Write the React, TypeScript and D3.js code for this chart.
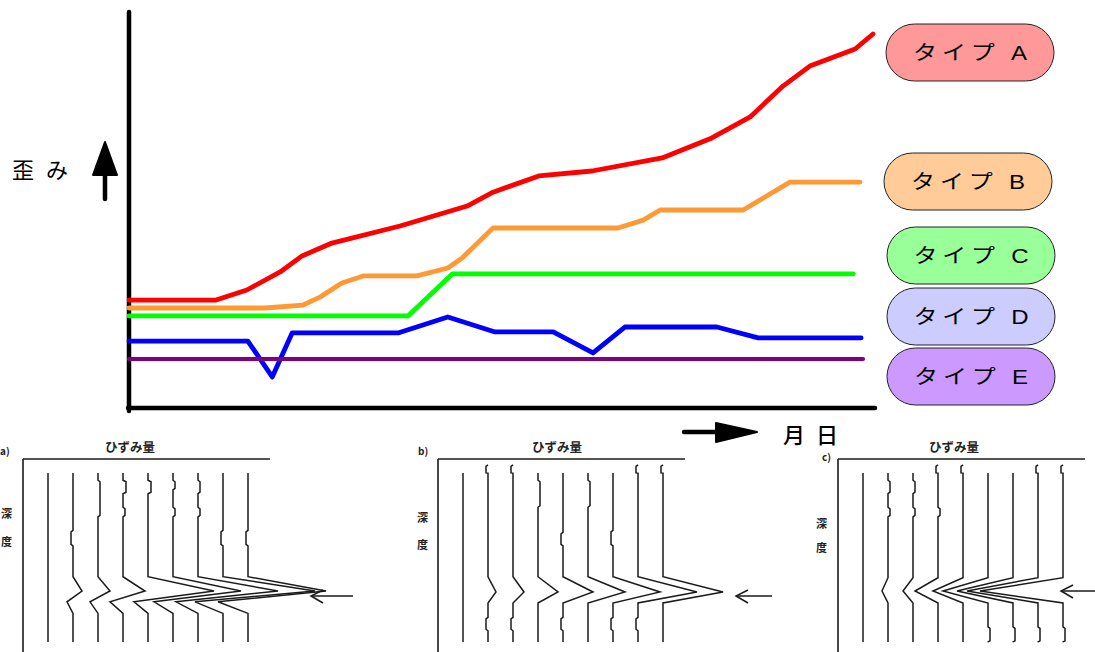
import React from "react";
import * as d3 from "d3";

const W = 1095;
const H = 652;

// ---- main chart data: [day, strain] ----
const typeA: [number, number][] = [
  [0, 54.5], [17.5, 54.5], [23.7, 59.6], [30.4, 68.7], [34.8, 76.8], [40.8, 83.3],
  [54.5, 91.9], [68, 102], [73.2, 109], [82.4, 117.2], [93.1, 119.7], [107.2, 126.3],
  [117.2, 136.4], [124.9, 147], [131.5, 162.6], [136.9, 172.7], [146, 181.3], [149.6, 188.9],
];
const typeB: [number, number][] = [
  [0, 50.5], [27.3, 50.5], [35, 52], [38.4, 56], [42.8, 63.1], [47.1, 66.7], [57.9, 66.7],
  [64.1, 70.7], [67, 75.8], [73.2, 90.9], [98.3, 90.9], [103.4, 94.9], [106.8, 100],
  [123.5, 100], [132.9, 114.1], [147, 114.1],
];
const typeC: [number, number][] = [
  [0, 46.5], [56.1, 46.5], [65, 67.7], [145.6, 67.7],
];
const typeD: [number, number][] = [
  [0, 33.8], [23.9, 33.8], [28.8, 15.7], [32.8, 37.9], [54.1, 37.9], [64.1, 46],
  [73.6, 38.4], [85.3, 38.4], [93.3, 27.8], [99.7, 40.9], [118.2, 40.9], [126.5, 35.4],
  [147.2, 35.4],
];
const typeE: [number, number][] = [
  [0, 24.7], [147.6, 24.7],
];

const typeNames = ["タイプ A", "タイプ B", "タイプ C", "タイプ D", "タイプ E"];
const lineColors = ["#ff0000", "#ff9933", "#00ff00", "#0000ff", "#800080"];
const pillColors = ["#ff9999", "#ffcc99", "#99ff99", "#ccccff", "#cc99ff"];
const seriesList = [typeA, typeB, typeC, typeD, typeE];

const yLabel = "歪み";
const xLabel = "月 日";

// ---- strain-profile panels (bottom) ----
const panelLabels = ["a)", "b)", "c)"];
const panelTitle = "ひずみ量";
const depthLabel = ["深", "度"];
const gaugePos = [25, 50, 75, 100, 125, 150, 175, 200, 225];
const peakA = [0, 9, 12, 22, 66, 68, 80, 92, 78];
const troughA = [0, -6, -8, -13, -14, -19, -22, -28, -30];
const peakB = [0, 8, 11, 20, 30, 37, 47, 59, 60];
const peakC = [0, -6, -10, -23, -30, -45, -56, -71, -83];
// small kinks in profiles: [depthFrom, depthTo, offset]
const jogsA: [number, number, number][][] = [
  [], [[37, 45, -2]], [[11, 30, 2]], [[11, 18, 3], [25, 30, 2]], [[11, 18, 3]],
  [[11, 16, 2], [25, 30, 2]], [[11, 18, 2], [25, 30, 2]], [[37, 45, -2]], [[37, 45, -2]],
];
const jogsB: [number, number, number][][] = [
  [], [[3, 8, -2], [82, 89, -2]], [[3, 8, -2], [82, 89, -2]], [[11, 25, 2]], [[38, 45, -2], [82, 89, -2]],
  [[11, 25, 2]], [[37, 45, -2], [82, 89, -2]], [[3, 8, -2], [82, 89, -2]], [[3, 8, -2]],
];
const jogsC: [number, number, number][][] = [
  [], [[11, 18, 2], [25, 30, 2]], [[11, 18, 2], [25, 30, 2]], [[3, 8, -2], [25, 30, 2]], [[3, 8, -2]],
  [[87, 95, 2]], [[87, 95, 2]], [[3, 8, -2], [87, 95, 2]], [[3, 8, -2], [87, 95, 2]],
];

// depth keys: top, kinkTop, peak, trough, return, bottom
const depthKeysA = [7.3, 61, 68.4, 74, 80, 94.8];
const depthKeysB = [7.3, 61, 68.9, 71.5, 74.6, 94.8];
const depthKeysC = [7.3, 61.5, 68.4, 71.5, 74.6, 94.8];

const panels = [
  { left: 23, label: panelLabels[0], peaks: peakA, troughs: troughA, jogs: jogsA, keys: depthKeysA,
    labelX: 0, labelY: 455, titleX: 130, sideX: 1, sideY: [518, 546], arrow: [353, 311, 596] },
  { left: 438, label: panelLabels[1], peaks: peakB, troughs: null, jogs: jogsB, keys: depthKeysB,
    labelX: 418, labelY: 455, titleX: 557, sideX: 417, sideY: [522, 549], arrow: [772, 736, 596] },
  { left: 838, label: panelLabels[2], peaks: peakC, troughs: null, jogs: jogsC, keys: depthKeysC,
    labelX: 822, labelY: 461, titleX: 954, sideX: 816, sideY: [528, 552], arrow: [1095, 1061, 591] },
];

function profilePoints(p: typeof panels[number], i: number): [number, number][] {
  const k = p.keys;
  if (p.peaks[i] === 0) return [[0, k[0]], [0, k[5]]];
  const pts: [number, number][] = [[0, k[0]], [0, k[1]], [p.peaks[i], k[2]]];
  if (p.troughs) pts.push([p.troughs[i], k[3]]);
  pts.push([0, k[4]], [0, k[5]]);
  for (const [d0, d1, dx] of p.jogs[i]) {
    pts.push([0, d0], [dx, d0 + 0.8], [dx, d1 - 0.8], [0, d1]);
  }
  pts.sort((a, b) => a[1] - b[1]);
  return pts;
}

const CJK = "'Noto Sans CJK JP', 'Noto Sans', sans-serif";
const LATIN_CJK = "'Liberation Sans', Arial, 'Noto Sans CJK JP', sans-serif";

export default function App() {
  const x = d3.scaleLinear().domain([0, 150]).range([129, 875]);
  const y = d3.scaleLinear().domain([0, 200]).range([408, 12]);
  const line = d3
    .line<[number, number]>()
    .x((d) => x(d[0]))
    .y((d) => y(d[1]));

  const pillLayout = [
    { x: 886, y: 24 }, { x: 884, y: 153 }, { x: 887, y: 227 }, { x: 887, y: 288 }, { x: 887, y: 348 },
  ];
  const pillW = 168;
  const pillH = 57;

  const depth = d3.scaleLinear().domain([0, 100]).range([459, 652]);

  return (
    <svg
      width={W}
      height={H}
      viewBox={`0 0 ${W} ${H}`}
      style={{ position: "absolute", left: 0, top: 0, background: "#fff" }}
    >
      <rect x={0} y={0} width={W} height={H} fill="#fff" />

      {/* axes */}
      <line x1={x(0)} y1={y(0) + 3} x2={x(0)} y2={y(200)} stroke="#000" strokeWidth={4.5} strokeLinecap="round" />
      <line x1={x(0) - 1} y1={y(0)} x2={x(150)} y2={y(0)} stroke="#000" strokeWidth={4.5} strokeLinecap="round" />

      {/* series */}
      {seriesList.map((s, i) => (
        <path
          key={i}
          d={line(s) || ""}
          fill="none"
          stroke={lineColors[i]}
          strokeWidth={i === 4 ? 4 : 4.8}
          strokeLinejoin="round"
          strokeLinecap="round"
        />
      ))}

      {/* y label + arrow */}
      <text x={12} y={178} fontFamily={CJK} fontSize={22} letterSpacing={12} fill="#000">
        {yLabel}
      </text>
      <line x1={105} y1={199} x2={105} y2={170} stroke="#000" strokeWidth={4.5} strokeLinecap="round" />
      <path d="M105,142 L117,175 L93,175 Z" fill="#000" stroke="#000" strokeWidth={2} strokeLinejoin="round" />

      {/* x label + arrow */}
      <line x1={684} y1={432} x2={720} y2={432} stroke="#000" strokeWidth={4.5} strokeLinecap="round" />
      <path d="M716,423 L757,432 L716,442 Z" fill="#000" stroke="#000" strokeWidth={2} strokeLinejoin="round" />
      <text x={783} y={443} fontFamily={CJK} fontSize={22} fontWeight={500} letterSpacing={3} fill="#000">
        {xLabel}
      </text>

      {/* legend pills */}
      {typeNames.map((n, i) => {
        const p = pillLayout[i];
        const cx = p.x + pillW / 2;
        const cy = p.y + pillH / 2;
        return (
          <g key={n}>
            <rect
              x={p.x}
              y={p.y}
              width={pillW}
              height={pillH}
              rx={pillH / 2}
              ry={pillH / 2}
              fill={pillColors[i]}
              stroke="#222"
              strokeWidth={1}
            />
            <g transform={`translate(${cx},${cy}) scale(1.2,1)`}>
              <text
                x={2}
                y={7}
                textAnchor="middle"
                fontFamily={LATIN_CJK}
                fontSize={20}
                letterSpacing={4}
                fill="#000"
              >
                {n}
              </text>
            </g>
          </g>
        );
      })}

      {/* bottom strain-profile panels */}
      {panels.map((p, pi) => {
        const sx = d3.scaleLinear().domain([0, 250]).range([p.left, p.left + 250]);
        return (
          <g key={pi}>
            <text x={p.labelX} y={p.labelY} fontFamily={CJK} fontSize={10} fontWeight={700} fill="#222">
              {p.label}
            </text>
            <text x={p.titleX} y={452} textAnchor="middle" fontFamily={CJK} fontSize={12.5} fontWeight={700} fill="#222">
              {panelTitle}
            </text>
            <text x={p.sideX} y={p.sideY[0]} fontFamily={CJK} fontSize={11} fontWeight={700} fill="#222">
              {depthLabel[0]}
            </text>
            <text x={p.sideX} y={p.sideY[1]} fontFamily={CJK} fontSize={11} fontWeight={700} fill="#222">
              {depthLabel[1]}
            </text>
            <line x1={sx(0)} y1={depth(0)} x2={sx(247)} y2={depth(0)} stroke="#1a1a1a" strokeWidth={1.6} />
            <line x1={sx(0)} y1={depth(0)} x2={sx(0)} y2={depth(100)} stroke="#1a1a1a" strokeWidth={1.6} />
            {gaugePos.map((g, i) => {
              const pts = profilePoints(p, i);
              const gl = d3
                .line<[number, number]>()
                .x((d) => sx(g + d[0]))
                .y((d) => depth(d[1]));
              return (
                <path key={i} d={gl(pts) || ""} fill="none" stroke="#1a1a1a" strokeWidth={1.5} strokeLinejoin="miter" />
              );
            })}
            <line x1={p.arrow[0]} y1={p.arrow[2]} x2={p.arrow[1]} y2={p.arrow[2]} stroke="#1a1a1a" strokeWidth={1.5} />
            <path
              d={`M${p.arrow[1] + 12},${p.arrow[2] - 6} L${p.arrow[1]},${p.arrow[2]} L${p.arrow[1] + 12},${p.arrow[2] + 7}`}
              fill="none"
              stroke="#1a1a1a"
              strokeWidth={1.5}
            />
          </g>
        );
      })}
    </svg>
  );
}
